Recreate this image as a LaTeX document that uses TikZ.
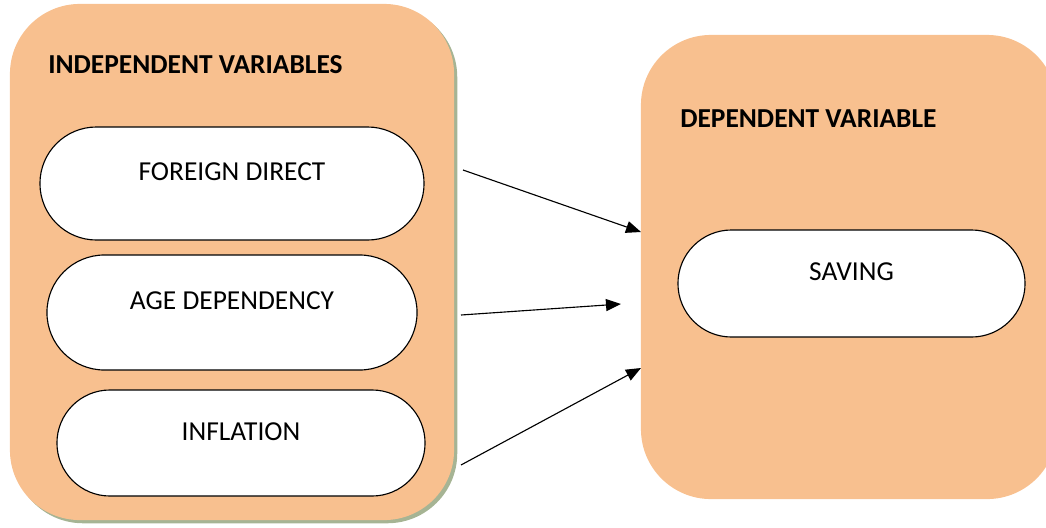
\documentclass[tikz,border=0pt]{standalone}
\usepackage{fontspec}
\setmainfont{Carlito}
\usetikzlibrary{arrows.meta,shadows,shapes.misc}

\definecolor{panelfill}{RGB}{248,192,143}
\definecolor{panelshadow}{RGB}{166,180,148}

\tikzset{
  panel/.style={fill=panelfill, rounded corners=1.75cm, inner sep=0pt},
  pill/.style={rounded rectangle, draw=black, line width=0.8pt, fill=white,
    inner sep=0pt, text height=0.44cm, text depth=0.575cm},
  heading/.style={anchor=base west, inner sep=0pt, font=\fontsize{19.5}{23}\selectfont\bfseries},
  conn/.style={line width=0.8pt, -{Triangle[length=0.375cm, width=0.3cm]}}
}

\begin{document}
\begin{tikzpicture}[x=0.025cm, y=-0.025cm, font=\fontsize{19.5}{23}\selectfont]

  \useasboundingbox (0,0) rectangle (1046,527);

  %Independent variables
  \node [panel, minimum width=11.1cm, minimum height=12.9cm,
    copy shadow={shadow xshift=0.08cm, shadow yshift=-0.08cm,
      fill=panelshadow, draw=none}] (iv) at (232,262) {};
  \node [heading] (ivtitle) at (48,73) {INDEPENDENT VARIABLES};

  \node [pill, minimum width=9.6cm, minimum height=2.825cm]
    (fdi) at (232,183.5) {FOREIGN DIRECT};
  \node [pill, minimum width=9.25cm, minimum height=2.875cm]
    (age) at (232,312.5) {AGE DEPENDENCY};
  \node [pill, minimum width=9.2cm, minimum height=2.65cm]
    (inf) at (241,443) {INFLATION};

  %Dependent variable
  \node [panel, minimum width=10.4cm, minimum height=11.6cm]
    (dv) at (849,267) {};
  \node [heading] (dvtitle) at (680,127) {DEPENDENT VARIABLE};

  \node [pill, minimum width=8.675cm, minimum height=2.675cm]
    (sav) at (851.5,283.5) {SAVING};

  %Connectors
  \coordinate (fdi-out) at (463,170);
  \coordinate (age-out) at (461,315);
  \coordinate (inf-out) at (461,465);
  \coordinate (dv-in1)  at (641,232);
  \coordinate (dv-in2)  at (621,304);
  \coordinate (dv-in3)  at (641,368);

  \draw [conn] (fdi-out) -- (dv-in1);
  \draw [conn] (age-out) -- (dv-in2);
  \draw [conn] (inf-out) -- (dv-in3);

\end{tikzpicture}
\end{document}
